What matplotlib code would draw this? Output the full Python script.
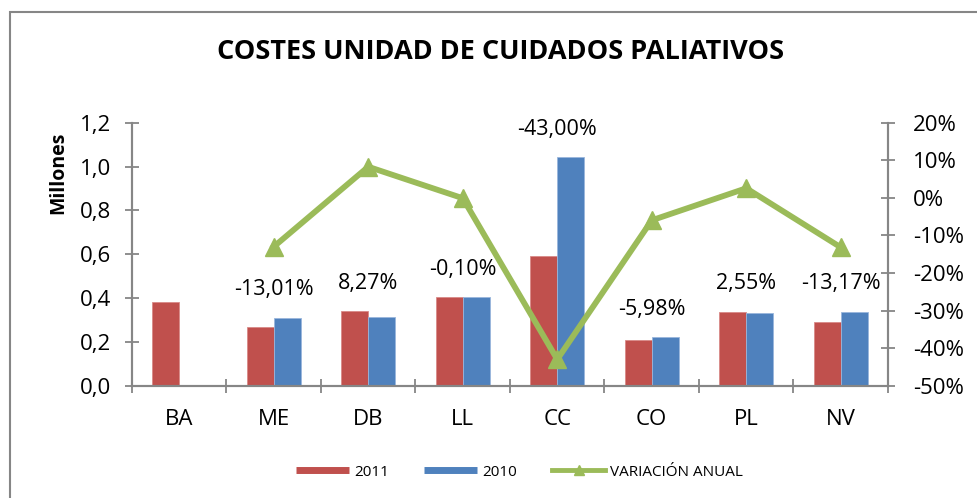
import numpy as np
import matplotlib
matplotlib.use("Agg")
import matplotlib.pyplot as plt
from matplotlib.lines import Line2D
from matplotlib.patches import Rectangle

plt.rcParams["font.family"] = ["Open Sans", "DejaVu Sans"]

categories = ["BA", "ME", "DB", "LL", "CC", "CO", "PL", "NV"]
costs_2011 = [0.382, 0.270, 0.340, 0.403, 0.592, 0.209, 0.338, 0.292]
costs_2010 = [np.nan, 0.310, 0.314, 0.405, 1.042, 0.223, 0.330, 0.338]
variation = [np.nan, -13.01, 8.27, -0.10, -43.00, -5.98, 2.55, -13.17]

red = "#C0504D"
blue = "#4F81BD"
green = "#9BBB59"
grey = "#868686"

fig = plt.figure(figsize=(9.78, 4.98), dpi=100)
ax = fig.add_axes([132 / 978, 1 - 385.7 / 498, (888 - 132) / 978, (385.7 - 122.7) / 498])
ax2 = ax.twinx()

x = np.arange(len(categories))
w = 0.286
ax.bar(x - w / 2, costs_2011, w, color=red, edgecolor="#D98A88", linewidth=0.6, zorder=2)
ax.bar(x + w / 2, costs_2010, w, color=blue, edgecolor="#9AB6DC", linewidth=0.6, zorder=2)

ax.set_xlim(-0.5, len(categories) - 0.5)
ax.set_ylim(0, 1.2)
ax.set_yticks(np.arange(0, 1.21, 0.2))
ax.set_yticklabels([f"{v:.1f}".replace(".", ",") for v in np.arange(0, 1.21, 0.2)])
ax.set_xticks(np.arange(-0.5, len(categories)), labels=[""] * (len(categories) + 1))
ax.set_xticks(x, labels=categories, minor=True)
ax.tick_params(axis="x", which="minor", length=0, pad=17, labelsize=16)
ax.tick_params(axis="x", which="major", direction="inout", length=10, width=1.3, color=grey)
ax.tick_params(axis="y", direction="inout", length=10, width=1.3, color=grey, pad=10, labelsize=16)
ax.set_ylabel("Millones", fontsize=14, fontweight="bold")
ax.yaxis.set_label_coords(-0.084, 0.81)

# annual variation line on the percent axis
ax2.plot(x, np.array(variation) / 100, color=green, lw=4.2, marker="^", markersize=13,
         zorder=3, clip_on=False)
ax2.set_ylim(-0.5, 0.2)
pct = np.arange(-0.5, 0.21, 0.1)
ax2.set_yticks(pct)
ax2.set_yticklabels([f"{round(v * 100):d}%" for v in pct])
ax2.tick_params(axis="y", direction="inout", length=10, width=1.3, color=grey, pad=13, labelsize=16)

for a in (ax, ax2):
    a.spines["top"].set_visible(False)
    for s in ("left", "right", "bottom"):
        a.spines[s].set_color(grey)
        a.spines[s].set_linewidth(1.5)
ax.patch.set_visible(False)
ax2.patch.set_visible(False)
ax.set_zorder(1)
ax2.set_zorder(2)

# variation labels above the taller bar of each group
for i, v in enumerate(variation):
    if np.isnan(v):
        continue
    top = np.nanmax([costs_2011[i], costs_2010[i]])
    ax.annotate(f"{v:.2f}%".replace(".", ","), (x[i], top), xytext=(0, 20),
                textcoords="offset points", ha="center", va="center", fontsize=15.5, zorder=5)

fig.text(0.512, 1 - 52 / 498, "COSTES UNIDAD DE CUIDADOS PALIATIVOS", ha="center",
         va="center", fontsize=19.5, fontweight="bold")

handles = [
    Line2D([], [], color=red, lw=5, solid_capstyle="butt"),
    Line2D([], [], color=blue, lw=5, solid_capstyle="butt"),
    Line2D([], [], color=green, lw=3.5, marker="^", markersize=7),
]
fig.legend(handles, ["2011", "2010", "VARIACIÓN ANUAL"], loc="center",
           bbox_to_anchor=(0.531, 1 - 472 / 498), ncol=3, frameon=False, fontsize=11,
           handlelength=3.5, handletextpad=0.3, columnspacing=2.3)

# chart frame
fig.add_artist(Rectangle((10 / 978, -0.2), 1.2, 1.2 - 12 / 498, transform=fig.transFigure,
                         fill=False, edgecolor=grey, lw=1.5))

fig.savefig("out.png", dpi=100)
